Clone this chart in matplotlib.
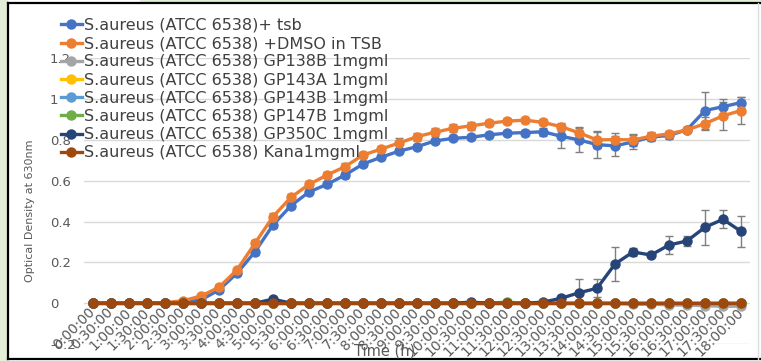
import matplotlib
matplotlib.use('Agg')
import matplotlib.pyplot as plt
from matplotlib.lines import Line2D
from matplotlib.patches import Rectangle
import numpy as np

# time points every 30 min, 0:00 .. 18:00
times = ['{}:{:02d}:00'.format(h // 2, (h % 2) * 30) for h in range(37)]

tsb = [0, 0, 0, 0, 0, 0.003, 0.016, 0.065, 0.147, 0.252, 0.383, 0.478, 0.545, 0.582,
       0.628, 0.682, 0.715, 0.745, 0.767, 0.795, 0.808, 0.813, 0.825, 0.833, 0.836,
       0.84, 0.818, 0.80, 0.777, 0.771, 0.79, 0.814, 0.822, 0.85, 0.944, 0.963, 0.983]
tsb_err = [0, 0, 0, 0, 0, 0, 0.005, 0.01, 0.01, 0.015, 0.015, 0.01, 0.01, 0.01, 0.015,
           0.01, 0.01, 0.01, 0.01, 0.01, 0.01, 0.01, 0.01, 0.01, 0.015, 0.02, 0.06, 0.06,
           0.065, 0.05, 0.035, 0.02, 0.015, 0.01, 0.09, 0.04, 0.025]

dmso = [0, 0, 0, 0, 0.003, 0.012, 0.035, 0.078, 0.163, 0.294, 0.424, 0.519, 0.582, 0.628,
        0.669, 0.726, 0.755, 0.785, 0.816, 0.838, 0.857, 0.869, 0.882, 0.892, 0.897,
        0.886, 0.865, 0.835, 0.80, 0.802, 0.80, 0.818, 0.83, 0.849, 0.88, 0.918, 0.944]
dmso_err = [0, 0, 0, 0, 0, 0.005, 0.005, 0.01, 0.01, 0.015, 0.02, 0.015, 0.015, 0.015,
            0.02, 0.015, 0.015, 0.025, 0.02, 0.02, 0.02, 0.02, 0.015, 0.015, 0.01, 0.015,
            0.02, 0.03, 0.04, 0.03, 0.03, 0.02, 0.015, 0.01, 0.03, 0.07, 0.065]

gp138b = [0] * 30 + [-0.005, -0.005, -0.008, -0.01, -0.012, -0.015, -0.015]
gp143a = [0] * 37
gp143b = [0] * 37
gp147b = [0] * 23 + [0.005] + [0] * 13

gp350c = [0, 0, 0, 0, 0, 0, 0, 0, 0, 0, 0.02, 0, 0, 0, 0, 0, 0, 0, 0, 0, 0, 0.005, 0, 0,
          0, 0.005, 0.024, 0.051, 0.073, 0.192, 0.251, 0.236, 0.285, 0.305, 0.372, 0.411,
          0.352]
gp350c_err = [0] * 26 + [0.01, 0.066, 0.045, 0.085, 0.02, 0.01, 0.045, 0.025, 0.085,
                         0.045, 0.075]

kana = [0] * 37

series = [
    ('S.aureus (ATCC 6538)+ tsb', tsb, tsb_err, '#4472C4'),
    ('S.aureus (ATCC 6538) +DMSO in TSB', dmso, dmso_err, '#ED7D31'),
    ('S.aureus (ATCC 6538) GP138B 1mgml', gp138b, None, '#A5A5A5'),
    ('S.aureus (ATCC 6538) GP143A 1mgml', gp143a, None, '#FFC000'),
    ('S.aureus (ATCC 6538) GP143B 1mgml', gp143b, None, '#5B9BD5'),
    ('S.aureus (ATCC 6538) GP147B 1mgml', gp147b, None, '#70AD47'),
    ('S.aureus (ATCC 6538) GP350C 1mgml', gp350c, gp350c_err, '#264478'),
    ('S.aureus (ATCC 6538) Kana1mgml', kana, None, '#9E480E'),
]

W, H = 761, 361
fig = plt.figure(figsize=(W / 100, H / 100), dpi=100)
fig.patch.set_facecolor('white')

# screenshot frame
fig.patches.append(Rectangle((0, 0), 7 / W, 1, transform=fig.transFigure,
                             color='#e3eed9', zorder=0))
fig.patches.append(Rectangle((140 / W, 1 - 2 / H), 1, 2 / H, transform=fig.transFigure,
                             color='#e3eed9', zorder=0))
for xs, ys in [([8 / W, 8 / W], [2 / H, 1 - 3 / H]),
               ([8 / W, 1], [1 - 3 / H, 1 - 3 / H]),
               ([8 / W, 1], [2 / H, 2 / H])]:
    fig.add_artist(Line2D(xs, ys, transform=fig.transFigure, color='black', lw=1.6))
fig.add_artist(Line2D([758 / W, 758 / W], [2 / H, 1 - 3 / H], transform=fig.transFigure,
                      color='#dddddd', lw=1))

ax = fig.add_axes([84 / W, 17 / H, 666 / W, 285.7 / H])
x = np.arange(len(times))

handles = []
for name, vals, err, col in series:
    if err is not None:
        ax.errorbar(x, vals, yerr=err, fmt='none', ecolor='#7f7f7f', elinewidth=1,
                    capsize=3, capthick=1, zorder=2)
    ln, = ax.plot(x, vals, color=col, lw=2.4, marker='o', ms=6.5, zorder=3, label=name)
    handles.append(ln)

ax.set_xlim(-0.5, 36.5)
ax.set_ylim(-0.2, 1.2)
ax.set_yticks(np.arange(-0.2, 1.21, 0.2))
ax.set_yticklabels(['-0.2', '0', '0.2', '0.4', '0.6', '0.8', '1', '1.2'])
ax.grid(axis='y', color='#d9d9d9', lw=1)
ax.set_axisbelow(True)
for s in ax.spines.values():
    s.set_visible(False)
ax.spines['bottom'].set_position(('data', 0))

ax.set_xticks(x)
ax.set_xticklabels(times, rotation=45, ha='right', va='center', rotation_mode='anchor')
ax.tick_params(axis='x', length=0, pad=5, labelsize=10, labelcolor='#595959')
ax.tick_params(axis='y', length=0, pad=24.5, labelsize=9.5, labelcolor='#595959')
for t in ax.get_yticklabels():
    t.set_ha('left')

fig.text(30 / W, 1 - 211 / H, 'Optical Density at 630nm', rotation=90, ha='center',
         va='center', fontsize=8, color='#595959')
fig.text(385 / W, 1 - 351 / H, 'Time (h)', ha='center', va='center', fontsize=10.5,
         color='#595959')

fig.legend(handles=handles, loc='upper left', bbox_to_anchor=(61 / W, 1 - 18 / H),
           frameon=False, fontsize=11.5, handlelength=1.3, handletextpad=0.15,
           labelspacing=0.2, borderpad=0, borderaxespad=0, labelcolor='#404040')

fig.savefig('out.png', dpi=100)
